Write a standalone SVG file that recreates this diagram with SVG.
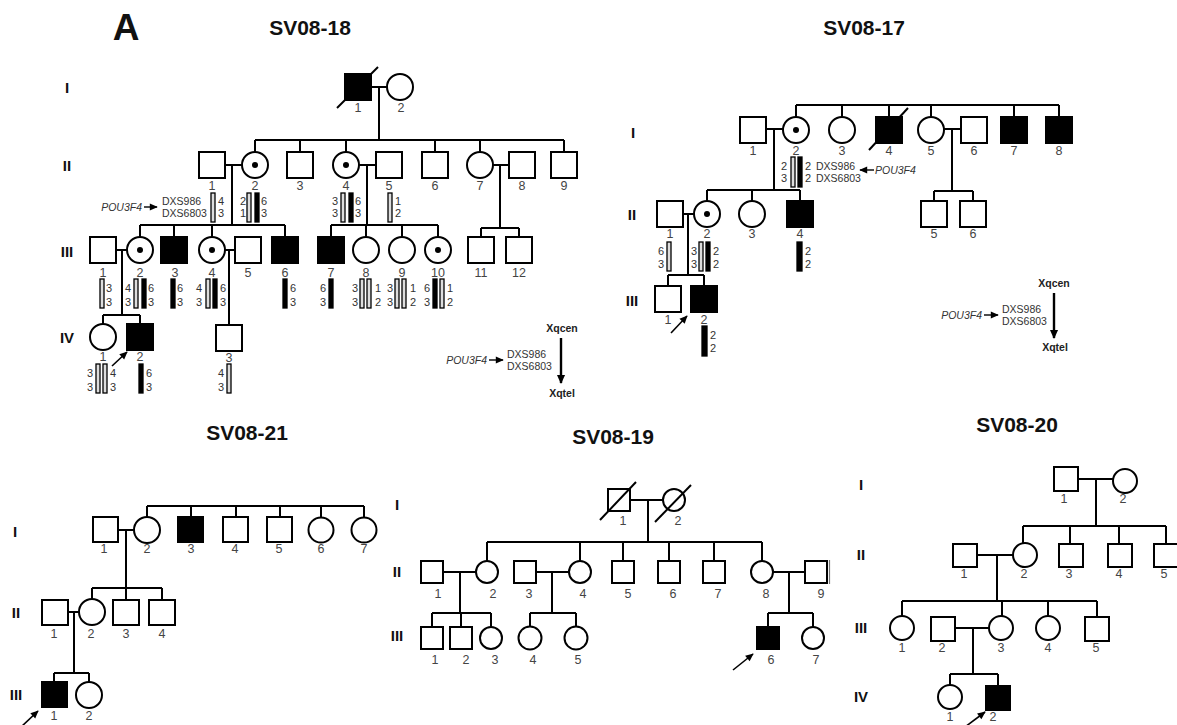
<svg xmlns="http://www.w3.org/2000/svg" width="1177" height="725" viewBox="0 0 1177 725">
<style>
.s{fill:#fff;stroke:#000;stroke-width:2}
.a{fill:#000;stroke:#000;stroke-width:2}
.l{stroke:#000;stroke-width:2;fill:none}
.sl{stroke:#000;stroke-width:2}
.d{fill:#000}
.n{font-family:"Liberation Sans",Arial,sans-serif;font-size:12.5px;fill:#444;text-anchor:middle}
.h{font-family:"Liberation Sans",Arial,sans-serif;font-size:11px;fill:#333}
.hm{text-anchor:middle}
.m{font-family:"Liberation Sans",Arial,sans-serif;font-size:10.5px;fill:#333}
.it{font-style:italic;text-anchor:end}
.x{font-family:"Liberation Sans",Arial,sans-serif;font-size:10.5px;font-weight:bold;fill:#222;text-anchor:middle}
.g{font-family:"Liberation Sans",Arial,sans-serif;font-size:15px;font-weight:bold;fill:#111;text-anchor:middle}
.t{font-family:"Liberation Sans",Arial,sans-serif;font-size:21px;font-weight:bold;fill:#111;text-anchor:middle}
.lb{fill:#ddd;stroke:#000;stroke-width:1.3}
.db{fill:#000;stroke:#000;stroke-width:1.3}
.pa{stroke:#000;stroke-width:1.6;marker-end:url(#ah)}
.la{stroke:#000;stroke-width:2.4;marker-end:url(#lh)}
</style>
<defs>
<marker id="ah" viewBox="0 0 10 10" refX="9" refY="5" markerWidth="9" markerHeight="8" markerUnits="userSpaceOnUse" orient="auto"><path d="M0,0.5 L10,5 L0,9.5 z" fill="#000"/></marker>
<marker id="lh" viewBox="0 0 10 10" refX="9" refY="5" markerWidth="10" markerHeight="9" markerUnits="userSpaceOnUse" orient="auto"><path d="M0,0.5 L10,5 L0,9.5 z" fill="#000"/></marker>
</defs>
<rect width="1177" height="725" fill="#fff"/>

<!-- ===================== SV08-18 ===================== -->
<text x="126" y="40" font-family="Liberation Sans, Arial, sans-serif" font-size="37" font-weight="bold" fill="#111" text-anchor="middle">A</text>
<text class="t" x="310" y="35">SV08-18</text>
<g id="sv0818-genlabels">
<text class="g" x="67" y="93">I</text>
<text class="g" x="67" y="171">II</text>
<text class="g" x="67" y="257">III</text>
<text class="g" x="67" y="343">IV</text>
</g>
<g id="sv0818-connectors">
<path class="l" d="M371,87H387M379,87V140M255,140H564M255,140V152M300,140V152M346,140V152M435,140V152M480,140V152M564,140V152"/>
<path class="l" d="M225,165H242M232,165V225M359,165H376M367,165V225M493,165H509M500,165V228"/>
<path class="l" d="M140,225H285M140,225V237M174,225V237M212,225V237M285,225V237M331,225H438M331,225V237M366,225V237M402,225V237M438,225V237M481,228H519M481,228V237M519,228V237"/>
<path class="l" d="M116,250H127M122,250V315M225,250H235M229,250V325M103,315H140M103,315V324M140,315V324"/>
<line class="pa" x1="112" y1="366" x2="127" y2="352"/>
</g>
<g id="sv0818-I-1"><rect class="a" x="345" y="74" width="26" height="26"/><line class="sl" x1="337" y1="108" x2="378" y2="67"/><text class="n" x="358" y="112">1</text></g>
<g id="sv0818-I-2"><circle class="s" cx="400" cy="87" r="13"/><text class="n" x="401" y="112">2</text></g>
<g id="sv0818-II-1"><rect class="s" x="199" y="152" width="26" height="26"/><text class="n" x="212" y="190">1</text></g>
<g id="sv0818-II-2"><circle class="s" cx="255" cy="165" r="13"/><circle class="d" cx="255" cy="165" r="3"/><text class="n" x="255" y="190">2</text></g>
<g id="sv0818-II-3"><rect class="s" x="287" y="152" width="26" height="26"/><text class="n" x="300" y="190">3</text></g>
<g id="sv0818-II-4"><circle class="s" cx="346" cy="165" r="13"/><circle class="d" cx="346" cy="165" r="3"/><text class="n" x="346" y="190">4</text></g>
<g id="sv0818-II-5"><rect class="s" x="376" y="152" width="26" height="26"/><text class="n" x="389" y="190">5</text></g>
<g id="sv0818-II-6"><rect class="s" x="422" y="152" width="26" height="26"/><text class="n" x="435" y="190">6</text></g>
<g id="sv0818-II-7"><circle class="s" cx="480" cy="165" r="13"/><text class="n" x="480" y="190">7</text></g>
<g id="sv0818-II-8"><rect class="s" x="509" y="152" width="26" height="26"/><text class="n" x="522" y="190">8</text></g>
<g id="sv0818-II-9"><rect class="s" x="551" y="152" width="26" height="26"/><text class="n" x="564" y="190">9</text></g>

<g id="sv0818-III-1"><rect class="s" x="90" y="237" width="26" height="26"/><text class="n" x="103" y="277">1</text></g>
<g id="sv0818-III-2"><circle class="s" cx="140" cy="250" r="13"/><circle class="d" cx="140" cy="250" r="3"/><text class="n" x="140" y="277">2</text></g>
<g id="sv0818-III-3"><rect class="a" x="161" y="237" width="26" height="26"/><text class="n" x="175" y="277">3</text></g>
<g id="sv0818-III-4"><circle class="s" cx="212" cy="250" r="13"/><circle class="d" cx="212" cy="250" r="3"/><text class="n" x="212" y="277">4</text></g>
<g id="sv0818-III-5"><rect class="s" x="235" y="237" width="26" height="26"/><text class="n" x="248" y="277">5</text></g>
<g id="sv0818-III-6"><rect class="a" x="272" y="237" width="26" height="26"/><text class="n" x="285" y="277">6</text></g>
<g id="sv0818-III-7"><rect class="a" x="318" y="237" width="26" height="26"/><text class="n" x="331" y="277">7</text></g>
<g id="sv0818-III-8"><circle class="s" cx="366" cy="250" r="13"/><text class="n" x="366" y="277">8</text></g>
<g id="sv0818-III-9"><circle class="s" cx="402" cy="250" r="13"/><text class="n" x="402" y="277">9</text></g>
<g id="sv0818-III-10"><circle class="s" cx="438" cy="250" r="13"/><circle class="d" cx="438" cy="250" r="3"/><text class="n" x="438" y="277">10</text></g>
<g id="sv0818-III-11"><rect class="s" x="468" y="237" width="26" height="26"/><text class="n" x="481" y="277">11</text></g>
<g id="sv0818-III-12"><rect class="s" x="506" y="237" width="26" height="26"/><text class="n" x="519" y="277">12</text></g>

<g id="sv0818-IV-1"><circle class="s" cx="103" cy="337" r="13"/><text class="n" x="103" y="361">1</text></g>
<g id="sv0818-IV-2"><rect class="a" x="127" y="324" width="26" height="26"/><text class="n" x="140" y="361">2</text></g>
<g id="sv0818-IV-3"><rect class="s" x="216" y="325" width="26" height="26"/><text class="n" x="229" y="362">3</text></g>

<g id="sv0818-haplotypes">
<text class="m it" x="142" y="211">POU3F4</text>
<line x1="144" y1="207" x2="157" y2="207" stroke="#000" stroke-width="1.4" marker-end="url(#ah)"/>
<text class="m" x="162" y="205">DXS986</text>
<text class="m" x="162" y="217">DXS6803</text>
<rect class="lb" x="211" y="193" width="4" height="29"/>
<text class="h" x="218" y="205">4</text><text class="h" x="218" y="217">3</text>
<text class="h hm" x="243" y="205">2</text><text class="h hm" x="243" y="217">1</text>
<rect class="lb" x="247" y="193" width="4" height="29"/><rect class="db" x="255" y="193" width="4" height="29"/>
<text class="h" x="261" y="205">6</text><text class="h" x="261" y="217">3</text>
<text class="h hm" x="335" y="205">3</text><text class="h hm" x="335" y="217">3</text>
<rect class="lb" x="341" y="193" width="4" height="29"/><rect class="db" x="349" y="193" width="4" height="29"/>
<text class="h" x="355" y="205">6</text><text class="h" x="355" y="217">3</text>
<rect class="lb" x="388" y="193" width="4" height="29"/>
<text class="h" x="395" y="205">1</text><text class="h" x="395" y="217">2</text>

<rect class="lb" x="100" y="279" width="4" height="29"/>
<text class="h" x="106" y="292">3</text><text class="h" x="106" y="306">3</text>
<text class="h hm" x="128" y="292">4</text><text class="h hm" x="128" y="306">3</text>
<rect class="lb" x="134" y="279" width="4" height="29"/><rect class="db" x="142" y="279" width="4" height="29"/>
<text class="h" x="148" y="292">6</text><text class="h" x="148" y="306">3</text>
<rect class="db" x="171" y="279" width="4" height="29"/>
<text class="h" x="177" y="292">6</text><text class="h" x="177" y="306">3</text>
<text class="h hm" x="199" y="292">4</text><text class="h hm" x="199" y="306">3</text>
<rect class="lb" x="206" y="279" width="4" height="29"/><rect class="db" x="213" y="279" width="4" height="29"/>
<text class="h" x="220" y="292">6</text><text class="h" x="220" y="306">3</text>
<rect class="db" x="283" y="279" width="4" height="29"/>
<text class="h" x="290" y="292">6</text><text class="h" x="290" y="306">3</text>
<text class="h hm" x="323" y="292">6</text><text class="h hm" x="323" y="306">3</text>
<rect class="db" x="329" y="279" width="4" height="29"/>
<text class="h hm" x="355" y="292">3</text><text class="h hm" x="355" y="306">3</text>
<rect class="lb" x="360" y="279" width="4" height="29"/><rect class="lb" x="367" y="279" width="4" height="29"/>
<text class="h" x="375" y="292">1</text><text class="h" x="375" y="306">2</text>
<text class="h hm" x="390" y="292">3</text><text class="h hm" x="390" y="306">3</text>
<rect class="lb" x="395" y="279" width="4" height="29"/><rect class="lb" x="402" y="279" width="4" height="29"/>
<text class="h" x="410" y="292">1</text><text class="h" x="410" y="306">2</text>
<text class="h hm" x="427" y="292">6</text><text class="h hm" x="427" y="306">3</text>
<rect class="db" x="433" y="279" width="4" height="29"/><rect class="lb" x="440" y="279" width="4" height="29"/>
<text class="h" x="447" y="292">1</text><text class="h" x="447" y="306">2</text>

<text class="h hm" x="90" y="377">3</text><text class="h hm" x="90" y="391">3</text>
<rect class="lb" x="96" y="364" width="4" height="29"/><rect class="lb" x="103" y="364" width="4" height="29"/>
<text class="h" x="110" y="377">4</text><text class="h" x="110" y="391">3</text>
<rect class="db" x="139" y="364" width="4" height="29"/>
<text class="h" x="146" y="377">6</text><text class="h" x="146" y="391">3</text>
<text class="h hm" x="221" y="377">4</text><text class="h hm" x="221" y="391">3</text>
<rect class="lb" x="227" y="364" width="4" height="29"/>
</g>
<g id="sv0818-legend">
<text class="x" x="562" y="332">Xqcen</text>
<line class="la" x1="561" y1="338" x2="561" y2="383"/>
<text class="m" x="507" y="358">DXS986</text>
<text class="m" x="507" y="370">DXS6803</text>
<text class="m it" x="487" y="364">POU3F4</text>
<line x1="489" y1="360" x2="503" y2="360" stroke="#000" stroke-width="1.4" marker-end="url(#ah)"/>
<text class="x" x="562" y="397">Xqtel</text>
</g>

<!-- ===================== SV08-17 ===================== -->
<text class="t" x="864" y="35">SV08-17</text>
<g id="sv0817-genlabels">
<text class="g" x="633" y="138">I</text>
<text class="g" x="632" y="220">II</text>
<text class="g" x="632" y="306">III</text>
</g>
<g id="sv0817-connectors">
<path class="l" d="M796,105H1059M796,105V117M842,105V117M889,105V117M931,105V117M1014,105V117M1059,105V117"/>
<path class="l" d="M766,129H783M774,129V190M944,129H961M952,129V191"/>
<path class="l" d="M707,190H800M707,190V201M752,190V201M800,190V201M934,191H973M934,191V201M973,191V201"/>
<path class="l" d="M683,214H694M688,214V275M668,275H704M668,275V286M704,275V286"/>
<line class="pa" x1="671" y1="333" x2="687" y2="316"/>
</g>
<g id="sv0817-I-1"><rect class="s" x="740" y="117" width="26" height="26"/><text class="n" x="753" y="155">1</text></g>
<g id="sv0817-I-2"><circle class="s" cx="796" cy="130" r="13"/><circle class="d" cx="796" cy="130" r="3"/><text class="n" x="796" y="155">2</text></g>
<g id="sv0817-I-3"><circle class="s" cx="842" cy="130" r="13"/><text class="n" x="842" y="155">3</text></g>
<g id="sv0817-I-4"><rect class="a" x="876" y="117" width="26" height="26"/><line class="sl" x1="869" y1="150" x2="908" y2="108"/><text class="n" x="889" y="155">4</text></g>
<g id="sv0817-I-5"><circle class="s" cx="931" cy="130" r="13"/><text class="n" x="931" y="155">5</text></g>
<g id="sv0817-I-6"><rect class="s" x="961" y="117" width="26" height="26"/><text class="n" x="974" y="155">6</text></g>
<g id="sv0817-I-7"><rect class="a" x="1001" y="117" width="26" height="26"/><text class="n" x="1014" y="155">7</text></g>
<g id="sv0817-I-8"><rect class="a" x="1046" y="117" width="26" height="26"/><text class="n" x="1059" y="155">8</text></g>
<g id="sv0817-II-1"><rect class="s" x="657" y="201" width="26" height="26"/><text class="n" x="670" y="238">1</text></g>
<g id="sv0817-II-2"><circle class="s" cx="707" cy="214" r="13"/><circle class="d" cx="707" cy="214" r="3"/><text class="n" x="707" y="238">2</text></g>
<g id="sv0817-II-3"><circle class="s" cx="752" cy="214" r="13"/><text class="n" x="752" y="238">3</text></g>
<g id="sv0817-II-4"><rect class="a" x="787" y="201" width="26" height="26"/><text class="n" x="800" y="238">4</text></g>
<g id="sv0817-II-5"><rect class="s" x="921" y="201" width="26" height="26"/><text class="n" x="934" y="238">5</text></g>
<g id="sv0817-II-6"><rect class="s" x="960" y="201" width="26" height="26"/><text class="n" x="973" y="238">6</text></g>
<g id="sv0817-III-1"><rect class="s" x="655" y="286" width="26" height="26"/><text class="n" x="668" y="324">1</text></g>
<g id="sv0817-III-2"><rect class="a" x="691" y="286" width="26" height="26"/><text class="n" x="704" y="324">2</text></g>
<g id="sv0817-haplotypes">
<text class="h hm" x="784" y="170">2</text><text class="h hm" x="784" y="182">3</text>
<rect class="lb" x="791" y="157" width="4" height="30"/><rect class="db" x="798" y="157" width="4" height="30"/>
<text class="h" x="805" y="170">2</text><text class="h" x="805" y="182">2</text>
<text class="m" x="816" y="170">DXS986</text>
<text class="m" x="816" y="182">DXS6803</text>
<line x1="874" y1="170" x2="860" y2="170" stroke="#000" stroke-width="1.4" marker-end="url(#ah)"/>
<text class="m" x="875" y="174" font-style="italic">POU3F4</text>
<text class="h hm" x="661" y="255">6</text><text class="h hm" x="661" y="268">3</text>
<rect class="lb" x="667" y="242" width="4" height="29"/>
<text class="h hm" x="694" y="255">3</text><text class="h hm" x="694" y="268">3</text>
<rect class="lb" x="699" y="242" width="4" height="29"/><rect class="db" x="706" y="242" width="4" height="29"/>
<text class="h" x="713" y="255">2</text><text class="h" x="713" y="268">2</text>
<rect class="db" x="797" y="242" width="5" height="29"/>
<text class="h" x="805" y="255">2</text><text class="h" x="805" y="268">2</text>
<rect class="db" x="702" y="326" width="5" height="30"/>
<text class="h" x="710" y="339">2</text><text class="h" x="710" y="352">2</text>
</g>
<g id="sv0817-legend">
<text class="x" x="1054" y="287">Xqcen</text>
<line class="la" x1="1054" y1="293" x2="1054" y2="338"/>
<text class="m" x="1002" y="313">DXS986</text>
<text class="m" x="1002" y="325">DXS6803</text>
<text class="m it" x="982" y="319">POU3F4</text>
<line x1="984" y1="315" x2="998" y2="315" stroke="#000" stroke-width="1.4" marker-end="url(#ah)"/>
<text class="x" x="1055" y="351">Xqtel</text>
</g>

<!-- ===================== SV08-21 ===================== -->
<text class="t" x="247" y="440">SV08-21</text>
<g id="sv0821-genlabels">
<text class="g" x="15" y="537">I</text>
<text class="g" x="16" y="618">II</text>
<text class="g" x="16" y="700">III</text>
</g>
<g id="sv0821-connectors">
<path class="l" d="M147,506H364M147,506V517M191,506V517M236,506V517M280,506V517M321,506V517M364,506V517"/>
<path class="l" d="M118,530H134M126,530V588M92,588H162M92,588V600M126,588V600M162,588V600"/>
<path class="l" d="M68,612H79M74,612V673M54,673H89M54,673V682M89,673V682"/>
<line class="pa" x1="20" y1="728" x2="38" y2="711"/>
</g>
<g id="sv0821-I-1"><rect class="s" x="93" y="517" width="25" height="25"/><text class="n" x="104" y="553">1</text></g>
<g id="sv0821-I-2"><circle class="s" cx="147" cy="530" r="13"/><text class="n" x="147" y="553">2</text></g>
<g id="sv0821-I-3"><rect class="a" x="178" y="517" width="25" height="25"/><text class="n" x="191" y="553">3</text></g>
<g id="sv0821-I-4"><rect class="s" x="223" y="517" width="25" height="25"/><text class="n" x="235" y="553">4</text></g>
<g id="sv0821-I-5"><rect class="s" x="267" y="517" width="25" height="25"/><text class="n" x="279" y="553">5</text></g>
<g id="sv0821-I-6"><circle class="s" cx="321" cy="530" r="12.5"/><text class="n" x="321" y="553">6</text></g>
<g id="sv0821-I-7"><circle class="s" cx="364" cy="530" r="12.5"/><text class="n" x="364" y="553">7</text></g>
<g id="sv0821-II-1"><rect class="s" x="42" y="600" width="26" height="25"/><text class="n" x="54" y="638">1</text></g>
<g id="sv0821-II-2"><circle class="s" cx="92" cy="612" r="13"/><text class="n" x="91" y="638">2</text></g>
<g id="sv0821-II-3"><rect class="s" x="113" y="600" width="26" height="25"/><text class="n" x="126" y="638">3</text></g>
<g id="sv0821-II-4"><rect class="s" x="149" y="600" width="26" height="25"/><text class="n" x="162" y="638">4</text></g>
<g id="sv0821-III-1"><rect class="a" x="42" y="682" width="25" height="25"/><text class="n" x="54" y="720">1</text></g>
<g id="sv0821-III-2"><circle class="s" cx="89" cy="695" r="13"/><text class="n" x="89" y="720">2</text></g>

<!-- ===================== SV08-19 ===================== -->
<text class="t" x="613" y="444">SV08-19</text>
<g id="sv0819-genlabels">
<text class="g" x="397" y="510">I</text>
<text class="g" x="397" y="577">II</text>
<text class="g" x="397" y="641">III</text>
</g>
<g id="sv0819-connectors">
<path class="l" d="M630,500H663M648,500V542M487,542H762M487,542V561M580,542V561M623,542V561M669,542V561M714,542V561M762,542V561"/>
<path class="l" d="M443,572H476M460,572V613M536,572H569M552,572V613M773,572H805M789,572V613"/>
<path class="l" d="M432,613H491M432,613V627M461,613V627M491,613V627M530,613H576M530,613V627M576,613V627M768,613H813M768,613V627M813,613V627"/>
<line class="pa" x1="733" y1="670" x2="753" y2="654"/>
</g>
<g id="sv0819-I-1"><rect class="s" x="608" y="489" width="22" height="22"/><line class="sl" x1="600" y1="520" x2="636" y2="482"/><text class="n" x="623" y="525">1</text></g>
<g id="sv0819-I-2"><circle class="s" cx="674" cy="500" r="11"/><line class="sl" x1="655" y1="522" x2="691" y2="485"/><text class="n" x="678" y="525">2</text></g>
<g id="sv0819-II-1"><rect class="s" x="421" y="561" width="22" height="22"/><text class="n" x="438" y="598">1</text></g>
<g id="sv0819-II-2"><circle class="s" cx="487" cy="572" r="11"/><text class="n" x="493" y="598">2</text></g>
<g id="sv0819-II-3"><rect class="s" x="514" y="561" width="22" height="22"/><text class="n" x="529" y="598">3</text></g>
<g id="sv0819-II-4"><circle class="s" cx="580" cy="572" r="11"/><text class="n" x="583" y="598">4</text></g>
<g id="sv0819-II-5"><rect class="s" x="612" y="561" width="22" height="22"/><text class="n" x="628" y="598">5</text></g>
<g id="sv0819-II-6"><rect class="s" x="658" y="561" width="22" height="22"/><text class="n" x="673" y="598">6</text></g>
<g id="sv0819-II-7"><rect class="s" x="703" y="561" width="22" height="22"/><text class="n" x="718" y="598">7</text></g>
<g id="sv0819-II-8"><circle class="s" cx="762" cy="572" r="11"/><text class="n" x="766" y="598">8</text></g>
<g id="sv0819-II-9"><rect class="s" x="805" y="561" width="22" height="22"/><line x1="829.5" y1="560" x2="829.5" y2="584" stroke="#777" stroke-width="1.2"/><text class="n" x="821" y="598">9</text></g>
<g id="sv0819-III-1"><rect class="s" x="421" y="627" width="22" height="22"/><text class="n" x="435" y="664">1</text></g>
<g id="sv0819-III-2"><rect class="s" x="450" y="627" width="22" height="22"/><text class="n" x="466" y="664">2</text></g>
<g id="sv0819-III-3"><circle class="s" cx="491" cy="638" r="11"/><text class="n" x="495" y="664">3</text></g>
<g id="sv0819-III-4"><circle class="s" cx="530" cy="638" r="11.5"/><text class="n" x="533" y="664">4</text></g>
<g id="sv0819-III-5"><circle class="s" cx="576" cy="638" r="11.5"/><text class="n" x="578" y="664">5</text></g>
<g id="sv0819-III-6"><rect class="a" x="757" y="627" width="22" height="22"/><text class="n" x="771" y="664">6</text></g>
<g id="sv0819-III-7"><circle class="s" cx="813" cy="638" r="11"/><text class="n" x="816" y="664">7</text></g>

<!-- ===================== SV08-20 ===================== -->
<text class="t" x="1017" y="432">SV08-20</text>
<g id="sv0820-genlabels">
<text class="g" x="861" y="490">I</text>
<text class="g" x="861" y="560">II</text>
<text class="g" x="861" y="633">III</text>
<text class="g" x="861" y="702">IV</text>
</g>
<g id="sv0820-connectors">
<path class="l" d="M1078,479H1113M1096,479V526M1023,526H1166M1023,526V543M1070,526V544M1119,526V544M1166,526V544"/>
<path class="l" d="M977,555H1013M997,555V601M902,601H1097M902,601V616M1002,601V616M1048,601V616M1097,601V617"/>
<path class="l" d="M955,628H989M973,628V674M950,674H998M950,674V685M998,674V686"/>
<line class="pa" x1="965" y1="727" x2="985" y2="712"/>
</g>
<g id="sv0820-I-1"><rect class="s" x="1054" y="467" width="24" height="24"/><text class="n" x="1064" y="503">1</text></g>
<g id="sv0820-I-2"><circle class="s" cx="1125" cy="481" r="12"/><text class="n" x="1123" y="503">2</text></g>
<g id="sv0820-II-1"><rect class="s" x="953" y="544" width="24" height="23"/><text class="n" x="964" y="578">1</text></g>
<g id="sv0820-II-2"><circle class="s" cx="1025" cy="555" r="12"/><text class="n" x="1024" y="578">2</text></g>
<g id="sv0820-II-3"><rect class="s" x="1059" y="544" width="24" height="23"/><text class="n" x="1069" y="578">3</text></g>
<g id="sv0820-II-4"><rect class="s" x="1108" y="544" width="24" height="23"/><text class="n" x="1119" y="578">4</text></g>
<g id="sv0820-II-5"><rect class="s" x="1154" y="544" width="24" height="23"/><text class="n" x="1164" y="578">5</text></g>
<g id="sv0820-III-1"><circle class="s" cx="902" cy="628" r="12"/><text class="n" x="902" y="652">1</text></g>
<g id="sv0820-III-2"><rect class="s" x="931" y="617" width="24" height="24"/><text class="n" x="942" y="652">2</text></g>
<g id="sv0820-III-3"><circle class="s" cx="1001" cy="628" r="12"/><text class="n" x="1001" y="652">3</text></g>
<g id="sv0820-III-4"><circle class="s" cx="1048" cy="628" r="12"/><text class="n" x="1048" y="652">4</text></g>
<g id="sv0820-III-5"><rect class="s" x="1085" y="617" width="24" height="24"/><text class="n" x="1096" y="652">5</text></g>
<g id="sv0820-IV-1"><circle class="s" cx="950" cy="697" r="12"/><text class="n" x="950" y="721">1</text></g>
<g id="sv0820-IV-2"><rect class="a" x="986" y="686" width="24" height="24"/><text class="n" x="993" y="721">2</text></g>
</svg>
